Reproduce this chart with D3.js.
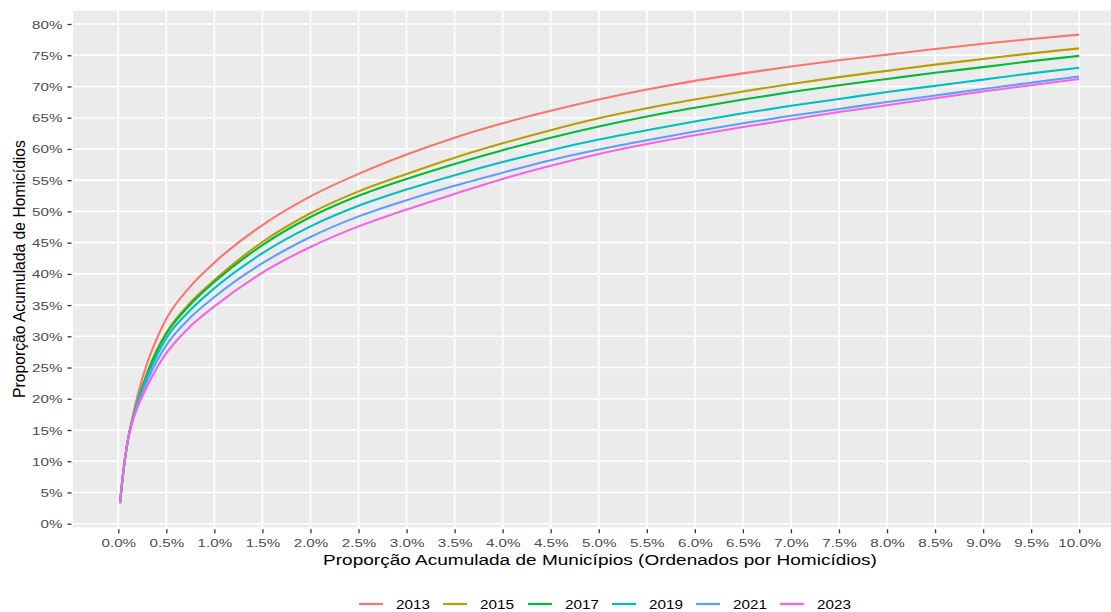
<!DOCTYPE html>
<html>
<head>
<meta charset="utf-8">
<script src="https://cdn.jsdelivr.net/npm/d3@7"></script>
<style>
  html, body { margin: 0; padding: 0; background: #ffffff; }
  svg { display: block; }
  text { font-family: "Liberation Sans", Arial, sans-serif; }
</style>
</head>
<body>
<svg id="chart" width="1111" height="612"></svg>
<script>
// ---- data ----
const municipiosPct = [0.018, 0.05, 0.1, 0.15, 0.2, 0.3, 0.4, 0.5, 0.75, 1.0, 1.5, 2.0, 2.5, 3.0, 3.5, 4.0, 4.5, 5.0, 5.5, 6.0, 6.5, 7.0, 7.5, 8.0, 8.5, 9.0, 9.5, 10.0];
const years = ["2013", "2015", "2017", "2019", "2021", "2023"];
const y2013 = [3.3, 8.0, 13.5, 17.2, 20.5, 25.7, 29.6, 32.8, 38.0, 41.8, 47.8, 52.4, 56.0, 59.1, 61.8, 64.1, 66.1, 67.9, 69.5, 70.9, 72.1, 73.2, 74.2, 75.1, 76.0, 76.85, 77.6, 78.3];
const y2015 = [3.3, 8.0, 13.4, 16.8, 19.6, 24.2, 27.8, 30.6, 35.4, 39.0, 45.1, 49.7, 53.2, 56.0, 58.6, 60.9, 63.0, 64.9, 66.5, 67.9, 69.2, 70.4, 71.5, 72.5, 73.5, 74.4, 75.3, 76.1];
const y2017 = [3.3, 8.0, 13.4, 16.8, 19.5, 24.0, 27.6, 30.4, 35.1, 38.7, 44.6, 49.1, 52.5, 55.2, 57.6, 59.8, 61.8, 63.6, 65.2, 66.6, 67.9, 69.1, 70.2, 71.2, 72.2, 73.1, 74.05, 74.9];
const y2019 = [3.3, 8.0, 13.4, 16.7, 19.3, 23.5, 26.9, 29.7, 34.2, 37.7, 43.3, 47.6, 50.9, 53.5, 55.8, 57.9, 59.8, 61.5, 63.0, 64.4, 65.7, 66.9, 68.0, 69.1, 70.1, 71.1, 72.1, 73.0];
const y2021 = [3.3, 8.0, 13.4, 16.6, 19.0, 22.8, 26.0, 28.6, 33.0, 36.3, 41.7, 45.9, 49.2, 51.8, 54.1, 56.2, 58.2, 59.9, 61.4, 62.8, 64.1, 65.3, 66.4, 67.5, 68.55, 69.6, 70.6, 71.6];
const y2023 = [3.3, 8.0, 13.4, 16.5, 18.6, 22.0, 24.9, 27.3, 31.6, 34.8, 40.2, 44.3, 47.6, 50.3, 52.8, 55.2, 57.3, 59.2, 60.8, 62.2, 63.5, 64.7, 65.9, 67.0, 68.1, 69.2, 70.2, 71.2];
const seriesValues = [y2013, y2015, y2017, y2019, y2021, y2023];
const xTickValues = d3.range(0, 10.001, 0.5);
const yTickValues = d3.range(0, 80.001, 5);
const colors = ["#F8766D", "#B79F00", "#00BA38", "#00BFC4", "#619CFF", "#F564E3"];

// ---- layout ----
const svg = d3.select("#chart");
const panel = { left: 73, right: 1111, top: 10.7, bottom: 527.3 };
const x = d3.scaleLinear().domain([0, 10]).range([118.3, 1079.2]);
const y = d3.scaleLinear().domain([0, 80]).range([523.7, 24.0]);
const SX = 1.38; // horizontal stretch of the glyphs in the reference

svg.append("rect").attr("x", 0).attr("y", 0).attr("width", 1111).attr("height", 612).attr("fill", "#fff");
svg.append("rect")
  .attr("x", panel.left).attr("y", panel.top)
  .attr("width", panel.right - panel.left).attr("height", panel.bottom - panel.top)
  .attr("fill", "#EBEBEB");

// grid
const grid = svg.append("g");
grid.selectAll("line.gx").data(xTickValues).join("line")
  .attr("x1", d => x(d)).attr("x2", d => x(d))
  .attr("y1", panel.top).attr("y2", panel.bottom)
  .attr("stroke", "#fff").attr("stroke-width", 1.6);
grid.selectAll("line.gy").data(yTickValues).join("line")
  .attr("y1", d => y(d)).attr("y2", d => y(d))
  .attr("x1", panel.left).attr("x2", panel.right)
  .attr("stroke", "#fff").attr("stroke-width", 1.6);

// lines
const line = d3.line()
  .x((d, i) => x(municipiosPct[i]))
  .y(d => y(d))
  .curve(d3.curveMonotoneX);
const clipId = "panelclip";
svg.append("clipPath").attr("id", clipId).append("rect")
  .attr("x", panel.left).attr("y", panel.top)
  .attr("width", panel.right - panel.left).attr("height", panel.bottom - panel.top);
svg.append("g").attr("clip-path", `url(#${clipId})`)
  .selectAll("path").data(seriesValues).join("path")
  .attr("d", d => line(d))
  .attr("fill", "none")
  .attr("stroke", (d, i) => colors[i])
  .attr("stroke-width", 2.1)
  .attr("stroke-linejoin", "round");

// axes
const xAxis = d3.axisBottom(x).tickValues(xTickValues).tickSize(4).tickPadding(0)
  .tickFormat(d => d.toFixed(1) + "%");
const yAxis = d3.axisLeft(y).tickValues(yTickValues).tickSize(4).tickPadding(0)
  .tickFormat(d => d + "%");

const gx = svg.append("g").attr("transform", `translate(0,${panel.bottom + 2})`).call(xAxis);
const gy = svg.append("g").attr("transform", `translate(${panel.left - 1.5},0)`).call(yAxis);
[gx, gy].forEach(g => {
  g.select(".domain").remove();
  g.selectAll(".tick line").attr("stroke", "#333333").attr("stroke-width", 1.3);
  g.selectAll(".tick text")
    .attr("fill", "#4D4D4D")
    .attr("font-size", 11)
    .attr("font-family", '"Liberation Sans", Arial, sans-serif');
});
gx.selectAll(".tick text")
  .attr("dy", null).attr("y", null)
  .attr("transform", `translate(0,17.5) scale(${SX},1)`);
gy.selectAll(".tick text")
  .attr("dy", null).attr("x", null)
  .attr("transform", `translate(-9,4) scale(${SX},1)`);

// helper: stretch factor so a text reaches a target width
function fitWidth(sel, target) {
  const w = sel.node().getComputedTextLength();
  return target / w;
}

// x title
const xt = svg.append("text")
  .attr("text-anchor", "middle").attr("font-size", 14.5).attr("fill", "#000")
  .text("Proporção Acumulada de Municípios (Ordenados por Homicídios)");
const sxt = fitWidth(xt, 554);
xt.attr("transform", `translate(600,565) scale(${sxt},1)`);

// y title
const yt = svg.append("text")
  .attr("text-anchor", "middle").attr("font-size", 12.5).attr("fill", "#000")
  .text("Proporção Acumulada de Homicídios");
const syt = fitWidth(yt, 258);
yt.attr("transform", `translate(25,269) rotate(-90) scale(${syt},${SX})`);

// legend
const legend = svg.append("g");
const legendX = [359, 443, 528, 612, 696, 780];
years.forEach((yr, i) => {
  const g = legend.append("g").attr("transform", `translate(${legendX[i]},604)`);
  g.append("line").attr("x1", 0).attr("x2", 24).attr("y1", 0).attr("y2", 0)
    .attr("stroke", colors[i]).attr("stroke-width", 2.2);
  const t = g.append("text").attr("font-size", 13).attr("fill", "#000").text(yr);
  const s = fitWidth(t, 34);
  t.attr("transform", `translate(37,5) scale(${s},1)`);
});
</script>
</body>
</html>
